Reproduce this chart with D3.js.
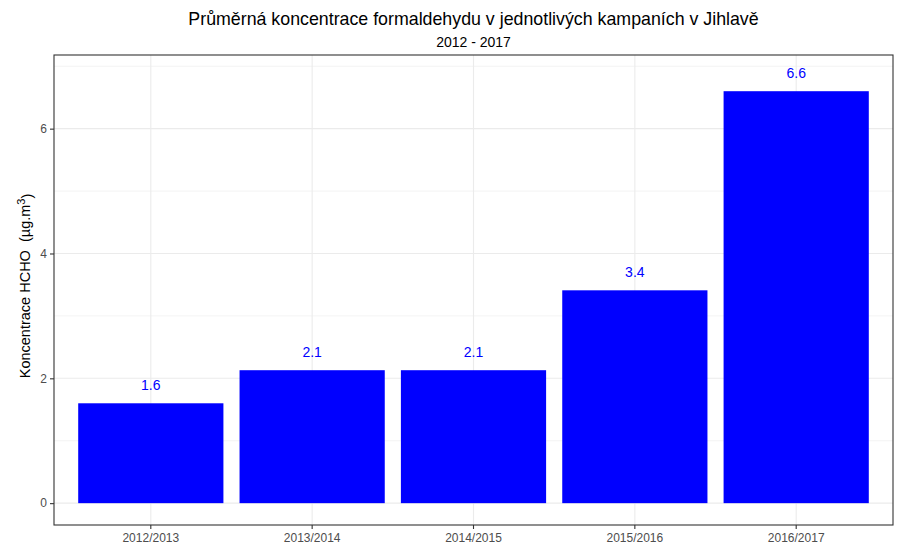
<!DOCTYPE html>
<html>
<head>
<meta charset="utf-8">
<script src="https://cdn.jsdelivr.net/npm/d3@7"></script>
<style>
body { margin: 0; background: #fff; }
text { font-family: "Liberation Sans", Arial, sans-serif; }
</style>
</head>
<body>
<svg id="chart" width="900" height="550"></svg>
<script>
var campaigns = ["2012/2013", "2013/2014", "2014/2015", "2015/2016", "2016/2017"];
var concentrations = [1.6, 2.13, 2.13, 3.41, 6.6];
var yTicks = [0, 2, 4, 6];
var yMinor = [1, 3, 5, 7];

var panel = {left: 54, right: 893, top: 55, bottom: 525};
var svg = d3.select("#chart");

var x = d3.scaleBand()
    .domain(campaigns)
    .range([panel.left, panel.right])
    .paddingInner(0.1)
    .paddingOuter(0.15);

var y = d3.scaleLinear()
    .domain([-0.35, 7.18])
    .range([panel.bottom, panel.top]);

// grid
var grid = svg.append("g");
grid.selectAll("line.minor").data(yMinor).enter().append("line")
    .attr("x1", panel.left).attr("x2", panel.right)
    .attr("y1", function(d) {return y(d);})
    .attr("y2", function(d) {return y(d);})
    .attr("stroke", "#ebebeb").attr("stroke-width", 0.6);
grid.selectAll("line.major").data(yTicks).enter().append("line")
    .attr("x1", panel.left).attr("x2", panel.right)
    .attr("y1", function(d) {return y(d);})
    .attr("y2", function(d) {return y(d);})
    .attr("stroke", "#ebebeb").attr("stroke-width", 1.1);
grid.selectAll("line.vert").data(campaigns).enter().append("line")
    .attr("y1", panel.top).attr("y2", panel.bottom)
    .attr("x1", function(d) {return x(d) + x.bandwidth() / 2;})
    .attr("x2", function(d) {return x(d) + x.bandwidth() / 2;})
    .attr("stroke", "#ebebeb").attr("stroke-width", 1.1);

// bars
svg.selectAll("rect.bar").data(concentrations).enter().append("rect")
    .attr("class", "bar")
    .attr("x", function(d, i) {return x(campaigns[i]);})
    .attr("y", function(d) {return y(d);})
    .attr("width", x.bandwidth())
    .attr("height", function(d) {return y(0) - y(d);})
    .attr("fill", "#0000ff");

// value labels
svg.selectAll("text.val").data(concentrations).enter().append("text")
    .attr("x", function(d, i) {return x(campaigns[i]) + x.bandwidth() / 2;})
    .attr("y", function(d) {return y(d + 0.29);})
    .attr("dy", "0.35em")
    .attr("text-anchor", "middle")
    .attr("font-size", "14px")
    .attr("fill", "#0000ff")
    .text(function(d) {return d3.format(".1f")(d);});

// panel border
svg.append("rect")
    .attr("x", panel.left).attr("y", panel.top)
    .attr("width", panel.right - panel.left)
    .attr("height", panel.bottom - panel.top)
    .attr("fill", "none").attr("stroke", "#333333").attr("stroke-width", 1.1);

// axes
var yAxis = svg.append("g")
    .attr("transform", "translate(" + panel.left + ",0)")
    .call(d3.axisLeft(y).tickValues(yTicks).tickSize(4).tickPadding(3).tickFormat(d3.format("d")));
var xAxis = svg.append("g")
    .attr("transform", "translate(0," + panel.bottom + ")")
    .call(d3.axisBottom(x).tickSize(4).tickPadding(4));
[xAxis, yAxis].forEach(function(a) {
    a.select(".domain").remove();
    a.selectAll(".tick line").attr("stroke", "#333333").attr("stroke-width", 1.1);
    a.selectAll(".tick text").attr("fill", "#4d4d4d").attr("font-size", "12px")
        .style("font-family", "'Liberation Sans', Arial, sans-serif");
});

// titles
var cx = (panel.left + panel.right) / 2;
svg.append("text")
    .attr("x", cx).attr("y", 25)
    .attr("text-anchor", "middle")
    .attr("font-size", "17.8px")
    .attr("fill", "#000")
    .text("Průměrná koncentrace formaldehydu v jednotlivých kampaních v Jihlavě");
svg.append("text")
    .attr("x", cx).attr("y", 47)
    .attr("text-anchor", "middle")
    .attr("font-size", "14px")
    .attr("fill", "#000")
    .text("2012 - 2017");

var yTitle = svg.append("text")
    .attr("transform", "translate(30," + ((panel.top + panel.bottom) / 2 - 4) + ") rotate(-90)")
    .attr("text-anchor", "middle")
    .attr("font-size", "14.5px")
    .attr("fill", "#000")
    .attr("xml:space", "preserve")
    .style("white-space", "pre");
yTitle.append("tspan").text("Koncentrace HCHO  (µg.m");
yTitle.append("tspan").attr("dy", "-0.5em").attr("font-size", "11px").text("3");
yTitle.append("tspan").attr("dy", "0.5em").text(")");
</script>
</body>
</html>
